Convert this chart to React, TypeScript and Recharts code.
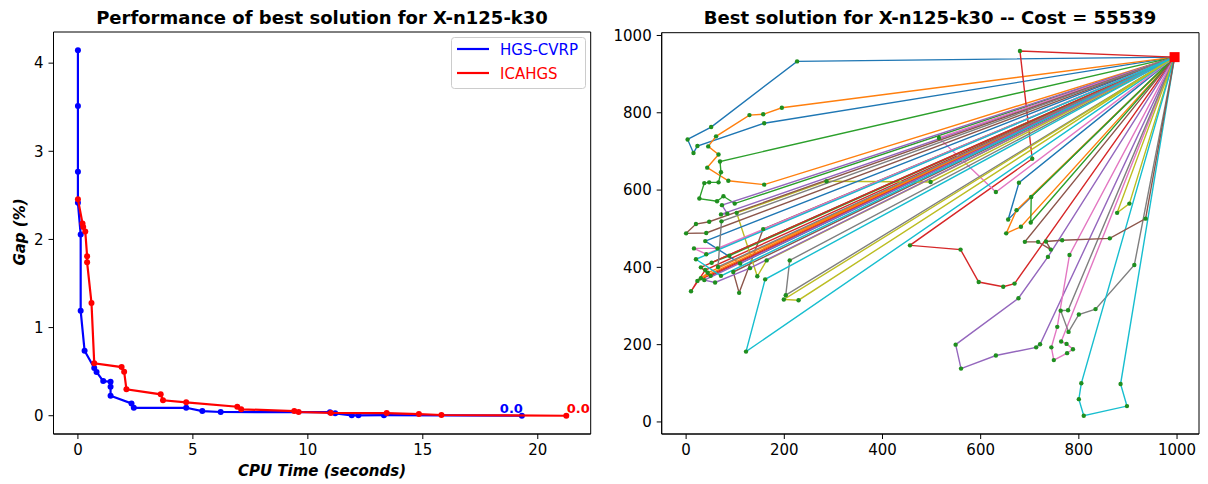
import React from 'react';
import { ScatterChart, Scatter, XAxis, YAxis, ReferenceArea } from 'recharts';

// ---------- Left chart data ----------
const hgsTime = [0, 0, 0, 0, 0.12, 0.12, 0.29, 0.71, 0.81, 1.1, 1.42, 1.42, 1.42, 2.33, 2.43, 4.71, 5.41, 6.21, 10.96, 11.19, 11.91, 12.2, 13.31, 19.31];
const hgsGap = [4.146, 3.515, 2.767, 2.415, 2.057, 1.19, 0.737, 0.541, 0.496, 0.393, 0.386, 0.33, 0.227, 0.14, 0.09, 0.09, 0.053, 0.042, 0.04, 0.027, 0.005, 0.005, 0.006, 0.0];
const icaTime = [0, 0.2, 0.23, 0.32, 0.4, 0.4, 0.59, 0.71, 1.9, 2.01, 2.11, 3.6, 3.7, 4.71, 6.93, 7.1, 9.41, 9.6, 11.0, 13.43, 14.83, 15.81, 21.24];
const icaGap = [2.457, 2.18, 2.14, 2.09, 1.81, 1.74, 1.28, 0.594, 0.552, 0.5, 0.3, 0.243, 0.175, 0.152, 0.102, 0.073, 0.053, 0.042, 0.032, 0.03, 0.019, 0.008, 0.0];
const seriesNames = ['HGS-CVRP', 'ICAHGS'];
const seriesColors = ['#0000ff', '#ff0000'];
const endLabels = ['0.0', '0.0'];
const leftXTicks = [0, 5, 10, 15, 20];
const leftYTicks = [0, 1, 2, 3, 4];

// ---------- Right chart data ----------
const depot = [995, 944];
const tab10 = ['#1f77b4', '#ff7f0e', '#2ca02c', '#d62728', '#9467bd', '#8c564b', '#e377c2', '#7f7f7f', '#bcbd22', '#17becf'];
const routes: number[][][] = [
  [[226, 933], [51, 763], [3, 731], [15, 696], [23, 714], [159, 773]],
  [[195, 813], [157, 796], [129, 794], [61, 739], [45, 713], [66, 692], [43, 658], [86, 624], [159, 614]],
  [[69, 674], [71, 646], [66, 620], [47, 620], [37, 618], [27, 578], [63, 571], [76, 584], [99, 565]],
  [[680, 960], [705, 681], [456, 457], [559, 446], [596, 362], [646, 350], [669, 358]],
  [[737, 427], [677, 320], [549, 200], [560, 138], [631, 172], [713, 193], [721, 201]],
  [[157, 499], [108, 334], [96, 388]],
  [[781, 432], [756, 246], [744, 193], [749, 160], [776, 178], [788, 188], [775, 202], [764, 208]],
  [[778, 289], [763, 288], [779, 233], [800, 278], [834, 292], [913, 406]],
  [[878, 541], [903, 565]],
  [[805, 100], [800, 59], [810, 16], [898, 41], [885, 98]],
  [[678, 619], [656, 524]],
  [[673, 548], [652, 488], [682, 505]],
  [[703, 582], [702, 516]],
  [[39, 393], [10, 338], [23, 365]],
  [[73, 561], [84, 539], [71, 537]],
  [[690, 466], [717, 466], [743, 446], [733, 467], [766, 470], [863, 475], [936, 526]],
  [[515, 735], [631, 595]],
  [[211, 418], [203, 328]],
  [[498, 621], [286, 623], [103, 541], [145, 377], [164, 418]],
  [[161, 369], [122, 182]],
  [[39, 468], [110, 410]],
  [[44, 386], [30, 372]],
  [[52, 412], [88, 430]],
  [[30, 400], [50, 378]],
  [[37, 367], [59, 361], [130, 398]],
  [[47, 518], [20, 512], [0, 488], [41, 489]],
  [[64, 449], [16, 449], [41, 434]],
  [[72, 519], [65, 401]],
  [[199, 317], [229, 315]],
  [[20, 421], [71, 378]],
];
const rightTicks = [0, 200, 400, 600, 800, 1000];

const FONT = 'DejaVu Sans';
const TICK = { fill: '#000', fontSize: 15, fontFamily: FONT };

const toPts = (xs: number[], ys: number[]) => xs.map((x, i) => ({ x, y: ys[i] }));
const hgsData = toPts(hgsTime, hgsGap);
const icaData = toPts(icaTime, icaGap);
const labelData = [
  { x: hgsTime[hgsTime.length - 1], y: hgsGap[hgsGap.length - 1], t: endLabels[0], c: seriesColors[0], a: 'end' },
  { x: icaTime[icaTime.length - 1], y: icaGap[icaGap.length - 1], t: endLabels[1], c: seriesColors[1], a: 'start' },
];

const routeData = routes.map((r) => [
  { x: depot[0], y: depot[1] },
  ...r.map((p) => ({ x: p[0], y: p[1] })),
  { x: depot[0], y: depot[1] },
]);
const customers = routes.flat().map((p) => ({ x: p[0], y: p[1] }));
const depotData = [{ x: depot[0], y: depot[1] }];

const xMaxL = 21.24;
const yMaxL = 4.146;
const lxDom: [number, number] = [-0.05 * xMaxL, xMaxL * 1.05];
const lyDom: [number, number] = [-0.05 * yMaxL, yMaxL * 1.05];
const rxDom: [number, number] = [-0.05 * 995, 995 * 1.05];
const ryDom: [number, number] = [16 - 0.05 * 944, 960 + 0.05 * 944];

const dot = (color: string, r: number) => (p: any) => <circle cx={p.cx} cy={p.cy} r={r} fill={color} />;
const none = () => <g />;

export default function App() {
  return (
    <div style={{ position: 'fixed', left: 0, top: 0, width: 1208, height: 484, background: '#fff', overflow: 'hidden' }}>
      <div style={{ position: 'absolute', left: 0, top: 0 }}>
        <ScatterChart width={610} height={484} margin={{ top: 32, right: 19.3, bottom: 10, left: 8.5 }}>
          <XAxis type="number" dataKey="x" domain={lxDom} ticks={leftXTicks} height={40} tickSize={5} tickMargin={5} stroke="#000" tick={TICK} allowDataOverflow />
          <YAxis type="number" dataKey="y" domain={lyDom} ticks={leftYTicks} width={45} tickSize={5} tickMargin={5} stroke="#000" tick={TICK} allowDataOverflow />
          <ReferenceArea x1={lxDom[0]} x2={lxDom[1]} y1={lyDom[0]} y2={lyDom[1]} fill="none" stroke="#000" strokeWidth={1} fillOpacity={0} ifOverflow="visible" />
          <Scatter data={hgsData} fill={seriesColors[0]} line={{ stroke: seriesColors[0], strokeWidth: 2.2 }} shape={dot(seriesColors[0], 3)} isAnimationActive={false} />
          <Scatter data={icaData} fill={seriesColors[1]} line={{ stroke: seriesColors[1], strokeWidth: 2.2 }} shape={dot(seriesColors[1], 3)} isAnimationActive={false} />
          <Scatter
            data={labelData}
            isAnimationActive={false}
            shape={(p: any) => (
              <text x={p.cx + (p.payload.a === 'end' ? 1 : 0.5)} y={p.cy - 3} textAnchor={p.payload.a} fill={p.payload.c} fontSize={13} fontWeight="bold" fontFamily={FONT}>
                {p.payload.t}
              </text>
            )}
          />
        </ScatterChart>
      </div>
      <div style={{ position: 'absolute', left: 610, top: 0 }}>
        <ScatterChart width={598} height={484} margin={{ top: 32.7, right: 9, bottom: 10, left: 6.7 }}>
          <XAxis type="number" dataKey="x" domain={rxDom} ticks={rightTicks} height={40} tickSize={5} tickMargin={5} stroke="#000" tick={TICK} allowDataOverflow />
          <YAxis type="number" dataKey="y" domain={ryDom} ticks={rightTicks} width={45} tickSize={5} tickMargin={5} stroke="#000" tick={TICK} allowDataOverflow />
          <ReferenceArea x1={rxDom[0]} x2={rxDom[1]} y1={ryDom[0]} y2={ryDom[1]} fill="none" stroke="#000" strokeWidth={1} fillOpacity={0} ifOverflow="visible" />
          {routeData.map((d, i) => (
            <Scatter key={i} data={d} fill={tab10[i % 10]} line={{ stroke: tab10[i % 10], strokeWidth: 1.4 }} shape={none} isAnimationActive={false} />
          ))}
          <Scatter data={customers} fill="#1a8a1a" shape={dot('#1f8f1f', 2.2)} isAnimationActive={false} />
          <Scatter data={depotData} fill="#ff0000" shape={(p: any) => <rect x={p.cx - 5} y={p.cy - 5} width={10} height={10} fill="#ff0000" />} isAnimationActive={false} />
        </ScatterChart>
      </div>
      <svg width={1208} height={484} style={{ position: 'absolute', left: 0, top: 0, pointerEvents: 'none' }}>
        <text x={322} y={23.5} textAnchor="middle" fontFamily={FONT} fontWeight="bold" fontSize={18} fill="#000">Performance of best solution for X-n125-k30</text>
        <text x={930} y={23.5} textAnchor="middle" fontFamily={FONT} fontWeight="bold" fontSize={18} fill="#000">Best solution for X-n125-k30 -- Cost = 55539</text>
        <text x={322} y={476} textAnchor="middle" fontFamily={FONT} fontWeight="bold" fontStyle="italic" fontSize={15} fill="#000">CPU Time (seconds)</text>
        <text x={25} y={232} textAnchor="middle" fontFamily={FONT} fontWeight="bold" fontStyle="italic" fontSize={15} fill="#000" transform="rotate(-90 25 232)">Gap (%)</text>
        <rect x={451.5} y={37.5} width={134} height={51} rx={3} ry={3} fill="#fff" fillOpacity={0.8} stroke="#cccccc" strokeWidth={1} />
        {seriesNames.map((n, i) => (
          <g key={n}>
            <line x1={457} x2={489} y1={49 + i * 24} y2={49 + i * 24} stroke={seriesColors[i]} strokeWidth={2.2} />
            <text x={500} y={54.5 + i * 24} fontFamily={FONT} fontSize={15} fill={seriesColors[i]}>{n}</text>
          </g>
        ))}
      </svg>
    </div>
  );
}
